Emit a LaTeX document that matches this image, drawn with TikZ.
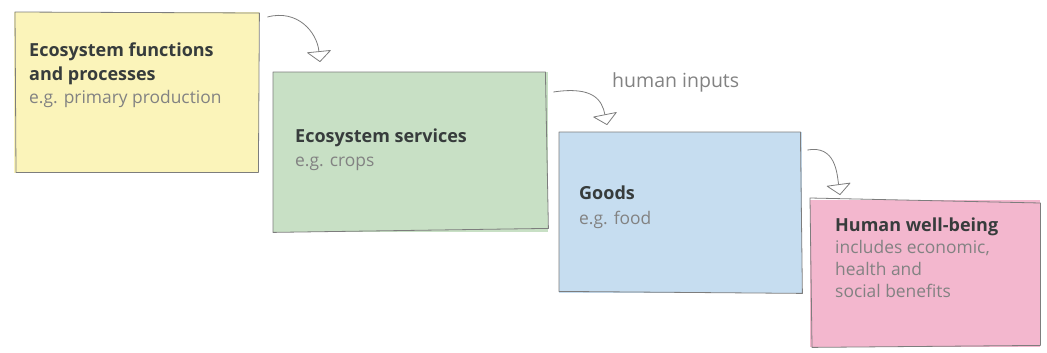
\documentclass[tikz,border=0pt]{standalone}
\usepackage{fontspec}
\setmainfont{Open Sans}
\usetikzlibrary{arrows.meta}
\definecolor{yel}{RGB}{251,244,186}
\definecolor{grn}{RGB}{200,224,197}
\definecolor{blu}{RGB}{198,221,240}
\definecolor{pnk}{RGB}{243,183,206}
\definecolor{edgec}{RGB}{125,125,125}
\definecolor{ttlc}{RGB}{55,60,60}
\definecolor{subc}{RGB}{130,130,130}
\begin{document}
\begin{tikzpicture}[x=1pt,y=-1pt,
 box/.style={draw=none, anchor=north west, inner sep=0pt},
 rim/.style={draw=edgec, line width=0.8pt, line join=round},
 ttl/.style={anchor=base west, inner sep=0pt, font=\fontsize{18}{20}\selectfont\bfseries, text=ttlc},
 sub/.style={anchor=base west, inner sep=0pt, font=\fontsize{17.4}{20}\selectfont, text=subc},
 arr/.style={draw=edgec, line width=0.8pt, -{Triangle[open, length=11pt, width=25pt, fill=white, round]}}]
\useasboundingbox (0,0) rectangle (1047,353);
\node[box, fill=yel, minimum width=245pt, minimum height=161pt] (yb) at (14,12) {};
\node[box, fill=grn, minimum width=275pt, minimum height=160pt] (gb) at (273,72) {};
\node[box, fill=blu, minimum width=243pt, minimum height=161pt] (bb) at (559,132) {};
\node[box, fill=pnk, minimum width=230pt, minimum height=147pt] (pb) at (810,200) {};
% hand-drawn rims
\draw[rim] ([shift={(1pt,0pt)}]yb.north west) -- ([shift={(0pt,-1pt)}]yb.north east) -- ([shift={(-1pt,1pt)}]yb.south east) -- ([shift={(2pt,1pt)}]yb.south west) -- cycle;
\draw[rim] ([shift={(0pt,0pt)}]gb.north west) -- ([shift={(-3pt,0pt)}]gb.north east) -- ([shift={(0pt,4pt)}]gb.south east) -- ([shift={(0pt,0pt)}]gb.south west) -- cycle;
\draw[rim] ([shift={(0pt,0pt)}]bb.north west) -- ([shift={(-2pt,0pt)}]bb.north east) -- ([shift={(0pt,0pt)}]bb.south east) -- ([shift={(0pt,2pt)}]bb.south west) -- cycle;
\draw[rim] ([shift={(0pt,2pt)}]pb.north west) -- ([shift={(0pt,-3pt)}]pb.north east) -- ([shift={(0pt,2pt)}]pb.south east) -- ([shift={(2pt,0pt)}]pb.south west) -- cycle;
\node[ttl] (y1) at (29,57) {Ecosystem functions};
\node[ttl] (y2) at (29,81) {and processes};
\node[sub] (y3) at (29,103) {e.g. primary production};
\node[ttl] (g1) at (295,142) {Ecosystem services};
\node[sub] (g2) at (295,166) {e.g. crops};
\node[ttl] (b1) at (579,199) {Goods};
\node[sub] (b2) at (579,224) {e.g. food};
\node[ttl] (p1) at (835,231) {Human well-being};
\node[sub] (p2) at (835,253) {includes economic,};
\node[sub] (p3) at (835,275) {health and};
\node[sub] (p4) at (835,297) {social benefits};
\node[sub, font=\fontsize{19.5}{22}\selectfont] (hi) at (612,88) {human inputs};
\draw[arr] ([shift={(8pt,-5pt)}]yb.north east) .. controls +(30,-8) and +(-3,-30) .. ([shift={(47pt,10pt)}]gb.north west);
\draw[arr] ([shift={(5pt,-20pt)}]gb.north east) .. controls +(40,-6) and +(-5,-25) .. ([shift={(48pt,7pt)}]bb.north west);
\draw[arr] ([shift={(5pt,-18pt)}]bb.north east) .. controls +(28,-5) and +(-3,-22) .. ([shift={(30pt,5pt)}]pb.north west);
\end{tikzpicture}
\end{document}
